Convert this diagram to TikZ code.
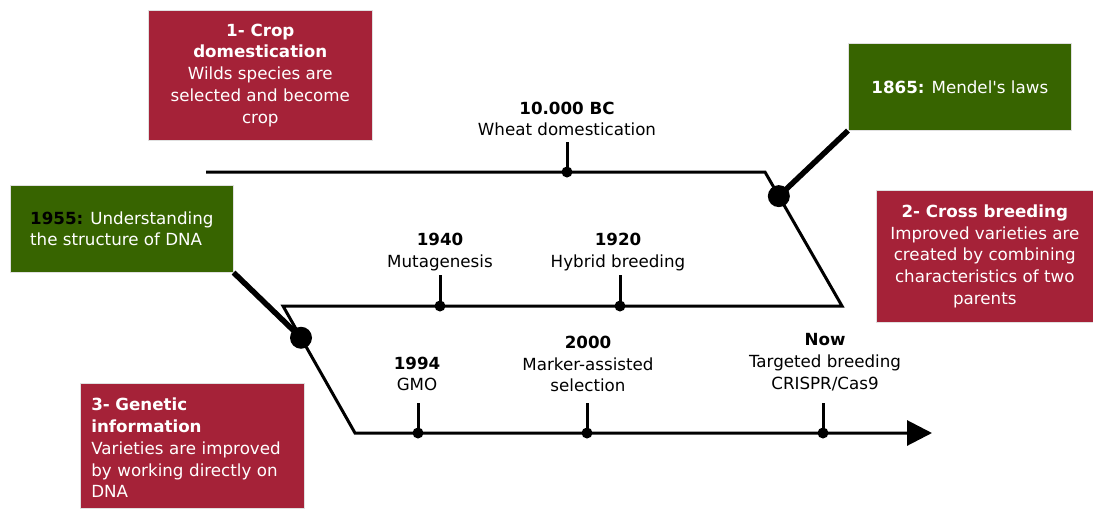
\documentclass[tikz,border=0pt]{standalone}
\usepackage{fontspec}
\setmainfont{DejaVu Sans}
\usetikzlibrary{arrows.meta}
\definecolor{boxred}{HTML}{A52238}
\definecolor{boxgreen}{HTML}{376400}
\begin{document}
\begin{tikzpicture}[x=1pt,y=-1pt,
  every node/.style={font=\fontsize{16.7}{21.8}\selectfont},
  infobox/.style={draw=black!12, line width=0.6pt, text=white, inner sep=0pt, anchor=north west},
  redbox/.style={infobox, fill=boxred},
  greenbox/.style={infobox, fill=boxgreen},
  timeline/.style={line width=3pt, line join=miter},
  tickline/.style={line width=3pt},
  linkline/.style={line width=5.5pt},
  smalldot/.style={circle, fill=black, inner sep=0pt, minimum size=11pt},
  bigdot/.style={circle, fill=black, inner sep=0pt, minimum size=22pt},
  eventlabel/.style={align=center, inner sep=0pt}
]
\useasboundingbox (0,0) rectangle (1093,509);

% description boxes
\node[redbox, minimum width=224pt, minimum height=130pt, align=center] (crop) at (148,10)
  {\textbf{1- Crop}\\\textbf{domestication}\\Wilds species are\\selected and become\\crop};
\node[greenbox, minimum width=223pt, minimum height=87pt, align=center] (mendel) at (848,43)
  {\textbf{1865:} Mendel\textquotesingle s laws};
\node[redbox, minimum width=217pt, minimum height=132pt, align=center] (cross) at (876,190)
  {\textbf{2- Cross breeding}\\Improved varieties are\\created by combining\\characteristics of two\\parents};
\node[greenbox, minimum width=223pt, minimum height=87pt, align=left] (dna) at (10,185)
  {\textcolor{black}{\textbf{1955:}} Understanding\\the structure of DNA};
\node[redbox, minimum height=125pt, inner xsep=11pt, text width=202pt, align=left] (genetic) at (80,383)
  {\rule{0pt}{17pt}\textbf{3- Genetic}\\\textbf{information}\\Varieties are improved\\by working directly on\\DNA};

% the zig-zag time line
\coordinate (a0) at (206,172);
\coordinate (a1) at (765,172);
\coordinate (b0) at (842,306);
\coordinate (b1) at (283,306);
\coordinate (c0) at (355,433);
\coordinate (c1) at (932,433);
\draw[timeline, -{Triangle[length=25pt,width=25pt]}] (a0) -- (a1) -- (b0) -- (b1) -- (c0) -- (c1);

% milestones linked to the boxes
\path (a1) -- (b0) node[bigdot, pos=0.18] (m1) {};
\path (b1) -- (c0) node[bigdot, pos=0.25] (m2) {};
\draw[linkline] (mendel.south west) -- (m1.center);
\draw[linkline] (dna.south east) -- (m2.center);

% events with ticks
\node[smalldot] (e1) at (567,172) {};
\node[smalldot] (e2) at (440,306) {};
\node[smalldot] (e3) at (620,306) {};
\node[smalldot] (e4) at (418,433) {};
\node[smalldot] (e5) at (587,433) {};
\node[smalldot] (e6) at (823,433) {};
\coordinate (k1) at (567,142);
\coordinate (k2) at (440,275);
\coordinate (k3) at (620,275);
\coordinate (k4) at (418,403);
\coordinate (k5) at (587,403);
\coordinate (k6) at (823,403);
\foreach \i in {1,...,6} \draw[tickline] (e\i.center) -- (k\i);

\node[eventlabel] (l1) at (567,119) {\textbf{10.000 BC}\\Wheat domestication};
\node[eventlabel] (l2) at (440,252) {\textbf{1940}\\Mutagenesis};
\node[eventlabel] (l3) at (618,252) {\textbf{1920}\\Hybrid breeding};
\node[eventlabel] (l4) at (417,374) {\textbf{1994}\\GMO};
\node[eventlabel] (l5) at (588,364) {\textbf{2000}\\Marker-assisted\\selection};
\node[eventlabel] (l6) at (825,362) {\textbf{Now}\\Targeted breeding\\CRISPR/Cas9};
\end{tikzpicture}
\end{document}
